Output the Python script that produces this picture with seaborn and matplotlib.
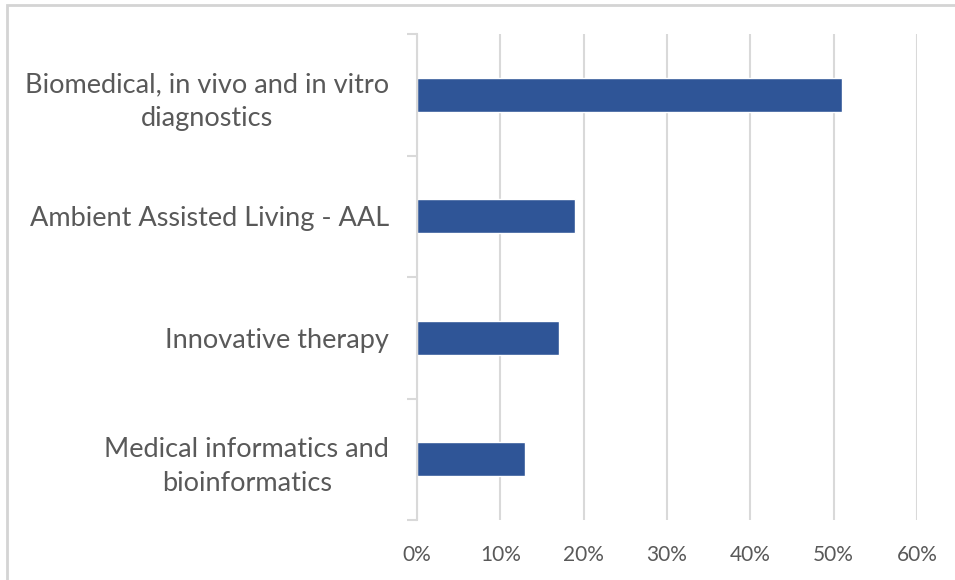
import matplotlib
matplotlib.use("Agg")
import matplotlib.pyplot as plt
from matplotlib.patches import Rectangle
from matplotlib.ticker import FuncFormatter, FixedLocator
import seaborn as sns
import pandas as pd

categories = [
    "Biomedical, in vivo and in vitro\ndiagnostics",
    "Ambient Assisted Living - AAL",
    "Innovative therapy",
    "Medical informatics and\nbioinformatics",
]
shares = [51, 19, 17, 13]
x_ticks = [0, 10, 20, 30, 40, 50, 60]

df = pd.DataFrame({"category": categories, "share": shares})

sns.set_theme(style="white")
plt.rcParams["font.family"] = ["Lato", "DejaVu Sans"]

fig = plt.figure(figsize=(9.55, 5.8), dpi=100)
ax = fig.add_axes([417 / 955, 1 - 520 / 580, 500 / 955, (520 - 34) / 580])

sns.barplot(data=df, x="share", y="category", orient="h", color="#2F5597",
            saturation=1, width=0.28, ax=ax)

ax.set_xlim(0, 60)
ax.set_ylim(3.5, -0.5)
ax.set_xticks(x_ticks)
ax.xaxis.set_major_formatter(FuncFormatter(lambda v, _: f"{int(v)}%"))
ax.set_xlabel("")
ax.set_ylabel("")

grid_c = "#d9d9d9"
ax.grid(axis="x", color=grid_c, linewidth=1.5)
ax.set_axisbelow(True)
for side in ["top", "right", "bottom"]:
    ax.spines[side].set_visible(False)
ax.spines["left"].set_color(grid_c)
ax.spines["left"].set_linewidth(1.5)

ax.tick_params(axis="x", length=0, pad=18, labelsize=15, labelcolor="#595959")
ax.tick_params(axis="y", which="major", length=0, pad=20, labelsize=19.5,
               labelcolor="#595959")
ax.yaxis.set_minor_locator(FixedLocator([-0.5, 0.5, 1.5, 2.5, 3.5]))
ax.tick_params(axis="y", which="minor", length=7, width=1.5, color=grid_c, left=True)
for lbl in ax.get_yticklabels():
    lbl.set_multialignment("center")
    lbl.set_linespacing(1.45)

# light frame around the chart area
fig.patches.append(Rectangle((7 / 955, -0.1), 1.2, 1 - 5 / 580 + 0.1,
                             transform=fig.transFigure, fill=False,
                             edgecolor="#d4d4d4", linewidth=2))

fig.savefig("out.png", dpi=100, facecolor="white")
